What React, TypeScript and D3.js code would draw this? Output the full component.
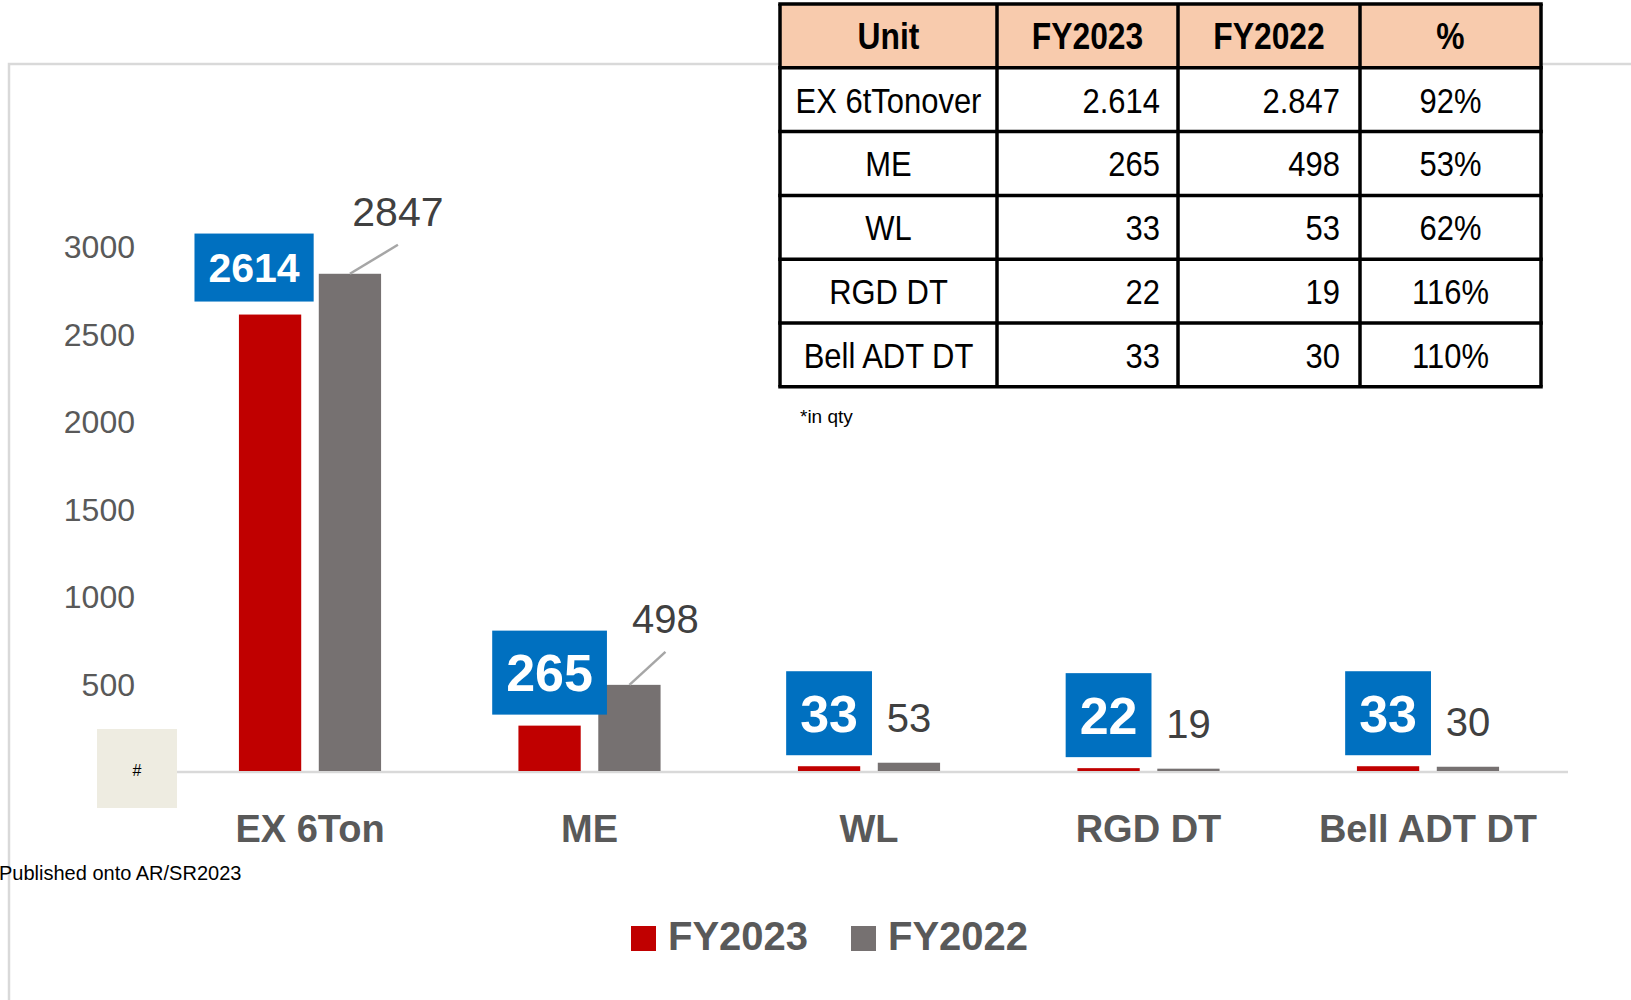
import * as d3 from 'd3';
import React from 'react';

// chart data
const categories = ["EX 6Ton", "ME", "WL", "RGD DT", "Bell ADT DT"];
const seriesNames = ["FY2023", "FY2022"];
const fy2023 = [2614, 265, 33, 22, 33];
const fy2022 = [2847, 498, 53, 19, 30];
const yTicks = [500, 1000, 1500, 2000, 2500, 3000];

// table next to the chart
const tableHeaders = ["Unit", "FY2023", "FY2022", "%"];
const tableUnits = ["EX 6tTonover", "ME", "WL", "RGD DT", "Bell ADT DT"];

// label placement tweaks (hand placed in the original)
const redLabelDx = [-16, 0, 0, 0, 0];
const redLabelSize = [41, 52, 52, 52, 52];
const grayLabelDx = [48, 36, 0, 0, 0];
const grayLabelDy = [-62, -66, -45, -45, -45];
const grayLeader = [true, true, false, false, false];

const RED = "#C00000";
const GRAY = "#767171";
const BLUE = "#0070C0";
const AXIS = "#D9D9D9";
const TXT = "#595959";
const FONT = "'Liberation Sans', Arial, sans-serif";

const deFormat = d3.formatLocale({ decimal: ",", thousands: ".", grouping: [3], currency: ["", "€"] }).format(",d");
const pctFormat = d3.format(".0%");

function App() {
    const x = d3.scaleBand().domain(categories).range([170.25, 1567.75]);
    const xs = d3.scaleBand().domain(seriesNames).range([0, x.bandwidth()]).paddingInner(0.22).paddingOuter(0.86);
    const y = d3.scaleLinear().domain([0, 3000]).range([772, 247]);
    const bw = xs.bandwidth();

    // table geometry
    const colX = [780, 997, 1178, 1360, 1541];
    const rowY = d3.range(7).map(i => 4 + i * 63.8);
    const sx = 0.86;

    const tableRows = categories.map((c, i) => [
        tableUnits[i],
        deFormat(fy2023[i]),
        deFormat(fy2022[i]),
        pctFormat(fy2023[i] / fy2022[i]),
    ]);

    const cellText = (txt: string, col: number, row: number, bold: boolean) => {
        const cy = (rowY[row] + rowY[row + 1]) / 2;
        const fs = bold ? 37 : 36;
        let tx = (colX[col] + colX[col + 1]) / 2;
        let anchor = "middle";
        if (row > 0 && (col === 1 || col === 2)) {
            tx = colX[col + 1] - (col === 1 ? 18 : 20);
            anchor = "end";
        }
        return (
            <g key={`t${row}-${col}`} transform={`translate(${tx},${cy + fs * 0.358}) scale(${sx},1)`}>
                <text x={0} y={0} textAnchor={anchor} fontSize={fs} fontWeight={bold ? "bold" : "normal"} fill="#000">{txt}</text>
            </g>
        );
    };

    return (
        <svg width={1631} height={1000} style={{ position: "absolute", left: 0, top: 0, display: "block" }} fontFamily={FONT}>
            <rect width={1631} height={1000} fill="#fff" />
            {/* chart frame */}
            <rect x={9} y={64} width={1700} height={1100} fill="none" stroke={AXIS} strokeWidth={2.5} />

            {/* y axis labels */}
            {yTicks.map(t => (
                <text key={t} x={135} y={y(t) + 32 * 0.358} textAnchor="end" fontSize={32} fill={TXT}>{t}</text>
            ))}

            {/* baseline */}
            <line x1={170} x2={1568} y1={y(0)} y2={y(0)} stroke={AXIS} strokeWidth={2.7} />

            {/* bars */}
            {categories.map((c, i) => (
                <g key={c} transform={`translate(${x(c)},0)`}>
                    <rect x={xs("FY2023")} y={y(fy2023[i])} width={bw} height={y(0) - y(fy2023[i]) - 1} fill={RED} />
                    <rect x={xs("FY2022")} y={y(fy2022[i])} width={bw} height={y(0) - y(fy2022[i]) - 1} fill={GRAY} />
                </g>
            ))}

            {/* # box */}
            <rect x={97} y={729} width={80} height={79} fill="#EEECE1" />
            <text x={137} y={776} textAnchor="middle" fontSize={16} fill="#000">#</text>

            {/* FY2023 labels in blue boxes */}
            {categories.map((c, i) => {
                const fs = redLabelSize[i];
                const txt = String(fy2023[i]);
                const w = txt.length * 0.556 * fs + 28;
                const h = fs === 52 ? 84 : 68;
                const cx = (x(c) as number) + (xs("FY2023") as number) + bw / 2 + redLabelDx[i];
                const bottom = y(fy2023[i]) - 11 - (i === 0 ? 2 : 0);
                return (
                    <g key={`rl${c}`}>
                        <rect x={cx - w / 2} y={bottom - h} width={w} height={h} fill={BLUE} />
                        <text x={cx} y={bottom - h / 2 + fs * 0.358} textAnchor="middle" fontSize={fs} fontWeight="bold" fill="#fff">{txt}</text>
                    </g>
                );
            })}

            {/* FY2022 labels */}
            {categories.map((c, i) => {
                const bx = (x(c) as number) + (xs("FY2022") as number) + bw / 2;
                const top = y(fy2022[i]);
                const cx = bx + grayLabelDx[i];
                const cy = top + grayLabelDy[i];
                const fs = i === 0 ? 41 : 40;
                return (
                    <g key={`gl${c}`}>
                        {grayLeader[i] && <line x1={bx} y1={top} x2={cx} y2={cy + 33} stroke="#A6A6A6" strokeWidth={2.5} />}
                        <text x={cx} y={cy + fs * 0.358} textAnchor="middle" fontSize={fs} fill="#404040">{fy2022[i]}</text>
                    </g>
                );
            })}

            {/* category labels */}
            {categories.map(c => (
                <text key={`cl${c}`} x={(x(c) as number) + x.bandwidth() / 2} y={842} textAnchor="middle" fontSize={38} fontWeight="bold" fill={TXT}>{c}</text>
            ))}

            <text x={-1} y={880} fontSize={20} fill="#000">Published onto AR/SR2023</text>

            {/* legend */}
            {seriesNames.map((s, i) => {
                const lx = [631, 851][i];
                return (
                    <g key={`lg${s}`}>
                        <rect x={lx} y={926} width={25} height={25} fill={i === 0 ? RED : GRAY} />
                        <text x={lx + 37} y={950} fontSize={40} fontWeight="bold" fill={TXT}>{s}</text>
                    </g>
                );
            })}

            {/* table */}
            <rect x={colX[0]} y={rowY[0]} width={colX[4] - colX[0]} height={rowY[1] - rowY[0]} fill="#F8CBAD" />
            <rect x={colX[0]} y={rowY[1]} width={colX[4] - colX[0]} height={rowY[6] - rowY[1]} fill="#fff" />
            {tableHeaders.map((h, j) => cellText(h, j, 0, true))}
            {tableRows.map((r, i) => r.map((v, j) => cellText(v, j, i + 1, false)))}
            {rowY.map((ry, i) => (
                <line key={`hr${i}`} x1={colX[0] - 1.75} x2={colX[4] + 1.75} y1={ry} y2={ry} stroke="#000" strokeWidth={3.5} />
            ))}
            {colX.map((cx, i) => (
                <line key={`vr${i}`} x1={cx} x2={cx} y1={rowY[0]} y2={rowY[6]} stroke="#000" strokeWidth={3.5} />
            ))}
            <text x={800} y={423} fontSize={19} fill="#000">*in qty</text>
        </svg>
    );
}

export default App;
